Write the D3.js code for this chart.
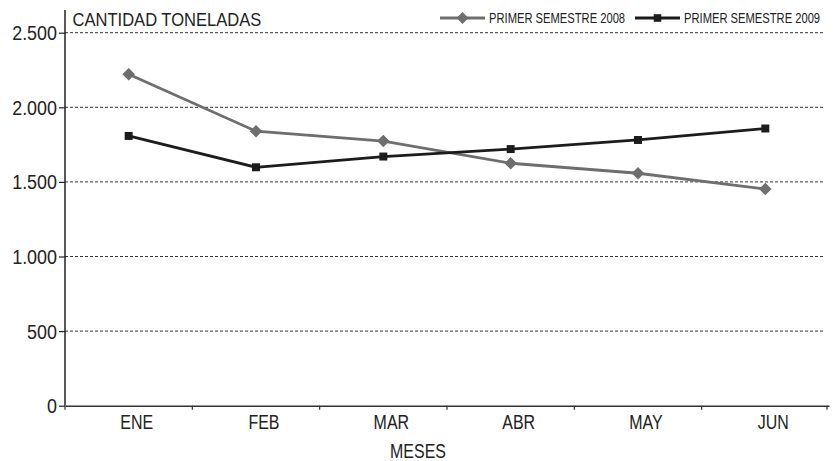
<!DOCTYPE html>
<html>
<head>
<meta charset="utf-8">
<script src="https://cdn.jsdelivr.net/npm/d3@7"></script>
<style>
  body { margin: 0; background: #fff; }
  svg text { font-family: "Liberation Sans", Arial, sans-serif; fill: #222; }
</style>
</head>
<body>
<div id="chart"></div>
<script>
(function() {
    // datos
    const meses = ["ENE", "FEB", "MAR", "ABR", "MAY", "JUN"];
    const serie2008 = [2222, 1840, 1774, 1625, 1558, 1452];
    const serie2009 = [1808, 1598, 1670, 1720, 1781, 1858];
    const yTicks = [0, 500, 1000, 1500, 2000, 2500];
    const nombres = ["PRIMER SEMESTRE 2008", "PRIMER SEMESTRE 2009"];

    const width = 837, height = 461;
    const left = 65, right = 829, top = 32.7, bottom = 405.7;

    const svg = d3.select("#chart").append("svg")
        .attr("width", width).attr("height", height);

    const x = d3.scaleBand().domain(meses).range([left, right]);
    const y = d3.scaleLinear().domain([0, 2500]).range([bottom, top]);
    const fmt = v => d3.format(",")(v).replace(/,/g, ".");

    // texto angosto (la fuente original es condensada)
    function texto(px, py, k, size, str, anchor) {
        return svg.append("text")
            .attr("transform", `translate(${px},${py}) scale(${k},1)`)
            .attr("text-anchor", anchor || "start")
            .attr("font-size", size).text(str);
    }

    // grilla
    svg.append("g").selectAll("line")
        .data(yTicks.filter(d => d > 0))
        .join("line")
        .attr("x1", left).attr("x2", 824)
        .attr("y1", d => y(d)).attr("y2", d => y(d))
        .attr("stroke", "#333").attr("stroke-width", 1)
        .attr("stroke-dasharray", "3,2");

    // eje Y
    const yAxis = svg.append("g")
        .attr("transform", `translate(${left},0)`)
        .call(d3.axisLeft(y).tickValues(yTicks).tickFormat(fmt).tickSize(6).tickSizeOuter(0));
    yAxis.select(".domain").attr("stroke", "#222").attr("stroke-width", 1.5)
        .attr("d", `M0,${bottom}V10`);
    yAxis.selectAll(".tick line").attr("stroke", "#222").attr("stroke-width", 1.2);
    yAxis.selectAll("text").attr("font-size", 19.5).attr("x", -8 / 0.92).attr("dy", "0.36em")
        .attr("transform", "scale(0.92,1)");

    // eje X
    const xAxis = svg.append("g")
        .attr("transform", `translate(0,${bottom})`)
        .call(d3.axisBottom(x).tickSize(0).tickSizeOuter(0));
    xAxis.select(".domain").attr("stroke", "#333").attr("stroke-width", 1.5);
    xAxis.selectAll("text").attr("font-size", 21).attr("dy", "0.98em")
        .attr("transform", "translate(8,0) scale(0.76,1)");
    svg.append("g").selectAll("line")
        .data(meses.map(m => x(m)).concat([right - 2]))
        .join("line")
        .attr("x1", d => d).attr("x2", d => d)
        .attr("y1", bottom).attr("y2", bottom + 4)
        .attr("stroke", "#333").attr("stroke-width", 1.2);

    texto(418, 457.5, 0.76, 21, "MESES", "middle");
    texto(72.5, 26, 0.92, 18, "CANTIDAD TONELADAS");

    const cx = d => x(d) + x.bandwidth() / 2;
    const line = d3.line().x((v, i) => cx(meses[i])).y(v => y(v));

    const series = [
        { nombre: nombres[0], valores: serie2008, color: "#6e6e6e", marca: d3.symbolDiamond2, tam: 10 },
        { nombre: nombres[1], valores: serie2009, color: "#1c1c1c", marca: d3.symbolSquare2, tam: 9 }
    ];

    series.forEach(s => {
        svg.append("path").datum(s.valores)
            .attr("fill", "none").attr("stroke", s.color).attr("stroke-width", 2.8)
            .attr("d", line);
        svg.append("g").selectAll("path")
            .data(s.valores)
            .join("path")
            .attr("transform", (v, i) => `translate(${cx(meses[i])},${y(v)})`)
            .attr("d", d3.symbol(s.marca, s.tam * s.tam))
            .attr("fill", s.color).attr("stroke", "none");
    });

    // leyenda
    const legX = [440, 635];
    series.forEach((s, i) => {
        const g = svg.append("g").attr("transform", `translate(${legX[i]},18)`);
        g.append("line").attr("x1", 0).attr("x2", 45).attr("stroke", s.color).attr("stroke-width", 2.8);
        g.append("path").attr("transform", "translate(22.5,0)")
            .attr("d", d3.symbol(s.marca, s.tam * s.tam * 0.9))
            .attr("fill", s.color);
        texto(legX[i] + 49, 23, 0.8, 14, s.nombre);
    });
})();
</script>
</body>
</html>
